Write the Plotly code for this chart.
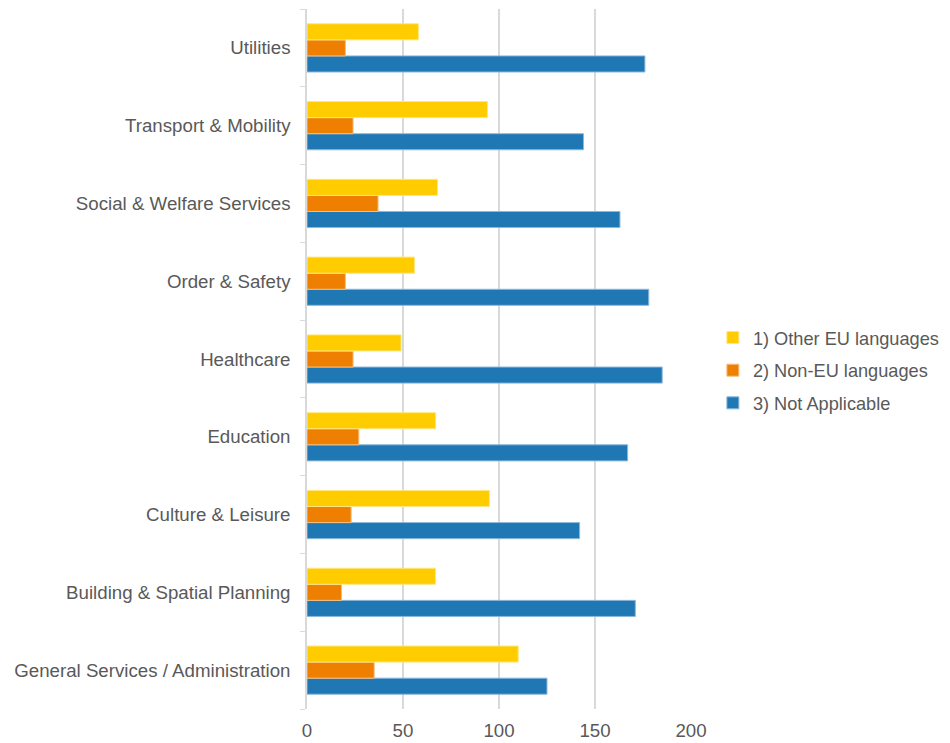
import plotly.graph_objects as go

categories = [
    "General Services / Administration",
    "Building & Spatial Planning",
    "Culture & Leisure",
    "Education",
    "Healthcare",
    "Order & Safety",
    "Social & Welfare Services",
    "Transport & Mobility",
    "Utilities",
]
other_eu = [110, 67, 95, 67, 49, 56, 68, 94, 58]
non_eu = [35, 18, 23, 27, 24, 20, 37, 24, 20]
not_applicable = [125, 171, 142, 167, 185, 178, 163, 144, 176]

series_names = ["3) Not Applicable", "2) Non-EU languages", "1) Other EU languages"]
series_values = [not_applicable, non_eu, other_eu]
series_colors = ["#1F77B4", "#EF7F00", "#FFCC00"]
series_lines = ["#8DB8DB", "#F6BF80", "#FFE680"]
series_ranks = [3, 2, 1]

fig = go.Figure()
for name, vals, col, lc, rk in zip(series_names, series_values, series_colors, series_lines, series_ranks):
    fig.add_trace(go.Bar(
        y=categories, x=vals, name=name, orientation="h",
        marker=dict(color=col, line=dict(color=lc, width=1)),
        legendgroup=name, legendrank=rk,
    ))

font_family = "Liberation Sans, Arial, sans-serif"
fs = 18.7
fig.update_layout(
    width=950, height=743,
    barmode="group", bargap=0.38, bargroupgap=0,
    plot_bgcolor="white", paper_bgcolor="white",
    margin=dict(l=299, r=267, t=1, b=42, pad=0),
    font=dict(family=font_family, size=fs, color="#595959"),
    legend=dict(
        x=1.057, xanchor="left", y=0.484, yanchor="middle",
        traceorder="grouped", tracegroupgap=6,
        font=dict(size=18.2, color="#595959"),
        itemwidth=30,
    ),
    showlegend=True,
)
fig.update_xaxes(
    range=[0, 200], tickvals=[0, 50, 100, 150, 200],
    showgrid=True, gridcolor="#D9D9D9", gridwidth=1.5,
    zeroline=False, showline=False, ticks="",
    tickfont=dict(size=fs, color="#595959"),
    ticklabelstandoff=8,
)
fig.update_yaxes(
    type="category", categoryorder="array", categoryarray=categories,
    showline=True, linecolor="#D9D9D9", linewidth=1.5,
    ticks="outside", tickson="boundaries", ticklen=5, tickcolor="#D9D9D9",
    tickfont=dict(size=fs, color="#595959"),
    ticklabelstandoff=11,
    showgrid=False,
)
fig.write_html("out.html")
